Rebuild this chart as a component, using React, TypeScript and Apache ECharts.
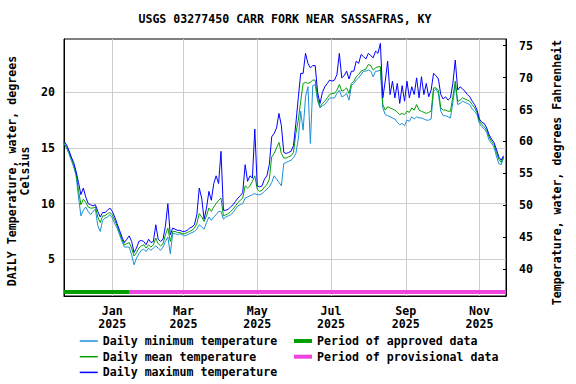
import React, { useEffect, useRef } from "react";
import * as echarts from "echarts";

const titleText = "USGS 03277450 CARR FORK NEAR SASSAFRAS, KY";
const leftAxisName = "DAILY Temperature, water, degrees\nCelsius";
const rightAxisName = "Temperature, water, degrees Fahrenheit";

// Day 0 = 2024-11-22; one value every 2 days
const stepDays = 2;

const maxTemp = [
  15.6, 15.3, 14.8, 14.2, 13.7, 12.9, 11.9, 10.8, 11.4, 10.6,
  10.0, 9.9, 9.8, 9.9, 9.3, 8.8, 9.2, 9.2, 9.4, 9.6,
  9.3, 8.8, 8.2, 7.6, 7.0, 6.5, 6.8, 7.1, 6.6, 5.6,
  6.0, 6.6, 6.7, 6.6, 6.3, 6.8, 6.5, 6.6, 8.1, 6.8,
  6.6, 6.8, 8.0, 10.0, 7.2, 7.8, 7.7, 7.6, 7.6, 7.5,
  7.5, 7.6, 7.8, 7.9, 8.1, 9.0, 11.4, 10.5, 8.6, 9.6,
  11.1, 10.3, 11.8, 12.5, 11.8, 14.7, 9.4, 9.4, 9.5, 9.7,
  9.9, 10.2, 10.5, 10.7, 11.0, 13.5, 12.0, 12.5, 12.3, 16.7,
  11.6, 11.5, 11.6, 12.2, 12.5, 13.5, 16.0, 16.3, 16.8, 18.1,
  17.0, 14.6, 14.5, 14.6, 14.7, 15.2, 17.2, 19.5, 21.7, 21.7,
  23.5, 22.6, 22.2, 22.4, 22.4, 20.0, 19.0, 20.0, 20.5, 20.8,
  21.1, 21.0, 21.1, 21.6, 23.5, 21.3, 21.5, 21.9, 21.2, 21.9,
  21.9, 22.8, 22.6, 23.4, 23.2, 23.0, 23.5, 23.3, 23.1, 23.7,
  23.5, 24.4, 19.5, 21.0, 22.8, 19.8, 21.0, 19.5, 20.8, 19.0,
  20.6, 19.2, 21.0, 19.5, 20.5, 19.8, 21.3, 19.5, 21.4, 19.8,
  20.8, 19.6, 20.2, 21.7, 21.5, 21.2, 19.8, 19.4, 19.6, 19.3,
  19.5, 20.8, 22.9, 20.2, 20.5, 20.3, 20.1, 19.8, 19.6, 19.2,
  18.9, 18.4, 17.6, 17.3, 17.2, 16.8, 16.2, 15.8, 15.5, 14.9,
  14.2, 13.9, 14.3,
];

const meanTemp = [
  15.5, 15.1, 14.7, 14.1, 13.5, 12.7, 11.2, 9.9, 10.4, 10.1,
  9.7, 9.6, 9.6, 9.7, 8.8, 8.3, 8.9, 8.9, 9.1, 9.2,
  9.0, 8.5, 8.0, 7.4, 6.8, 6.3, 6.4, 6.5, 6.0, 5.3,
  5.6, 6.0, 6.2, 6.3, 6.0, 6.3, 6.1, 6.3, 6.9, 6.4,
  6.2, 6.4, 7.2, 7.8, 6.6, 7.5, 7.5, 7.4, 7.4, 7.3,
  7.3, 7.4, 7.5, 7.6, 7.8, 8.2, 9.1, 8.8, 8.4, 8.9,
  9.6, 9.3, 9.7, 10.0, 10.3, 10.5, 8.9, 9.0, 9.1, 9.3,
  9.5, 9.8, 10.1, 10.3, 10.5, 11.6, 11.4, 11.6, 12.0, 12.5,
  11.3, 11.1, 11.2, 11.5, 11.7, 12.2, 14.2, 14.5, 15.0, 15.5,
  14.5, 14.1, 14.1, 14.2, 14.3, 14.6, 16.3, 17.5, 19.2, 20.8,
  20.9, 20.8, 20.9, 21.1, 21.1, 19.5, 18.7, 19.0, 19.2, 19.5,
  19.8, 19.9, 19.9, 20.2, 20.7, 20.1, 20.2, 20.4, 19.9, 20.8,
  21.0, 21.4, 21.6, 21.9, 22.0, 22.1, 22.5, 22.4, 22.0, 22.2,
  22.3, 22.3, 18.9, 18.4, 18.7, 18.6, 18.5, 18.4, 18.2, 18.0,
  18.1, 18.0, 18.3, 18.2, 18.6, 18.4, 18.9, 18.4, 18.3, 18.2,
  18.1, 18.2, 18.3, 20.4, 20.4, 20.2, 18.6, 18.4, 18.4, 18.3,
  18.3, 19.6, 21.0, 19.2, 19.3, 19.5, 19.4, 19.3, 19.2, 18.9,
  18.6, 18.2, 17.4, 17.1, 16.9, 16.6, 16.0, 15.6, 15.3, 14.6,
  14.0, 13.7, 14.2,
];

const minTemp = [
  15.4, 15.0, 14.5, 13.9, 13.3, 12.5, 10.6, 8.9, 9.4, 9.7,
  9.3, 9.0, 9.3, 9.5, 8.0, 7.5, 8.5, 8.7, 8.8, 9.0,
  8.7, 8.2, 7.8, 7.2, 6.6, 6.1, 6.1, 6.1, 5.4, 4.5,
  5.1, 5.5, 5.8, 5.9, 5.7, 6.0, 5.8, 6.0, 6.2, 6.0,
  5.8, 6.1, 6.6, 7.0, 5.5, 7.3, 7.3, 7.2, 7.3, 7.2,
  7.1, 7.2, 7.3, 7.4, 7.5, 7.7, 8.1, 7.9, 7.7, 8.3,
  8.8, 8.5, 8.8, 9.0, 9.3, 9.3, 8.6, 8.8, 8.9, 9.0,
  9.2, 9.5, 9.8, 9.9, 10.0, 10.5, 10.6, 10.7, 10.8, 10.9,
  10.8, 10.8, 10.9, 11.1, 11.3, 11.5, 11.9, 12.5, 12.2, 11.9,
  11.6, 13.6, 13.7, 13.8, 13.9, 14.1, 14.5, 15.8, 18.3, 16.6,
  19.6, 20.5, 15.4, 20.6, 20.7, 19.2, 18.6, 18.8, 18.9, 19.2,
  19.5, 19.5, 19.5, 19.9, 20.2, 19.6, 19.7, 19.9, 19.3, 20.6,
  20.8, 21.1, 21.3, 21.6, 21.9, 21.9, 22.0, 21.9, 21.4, 21.9,
  21.9, 22.0, 18.6, 18.0, 17.9, 17.8, 17.7, 17.6, 17.3, 17.1,
  17.2, 17.0, 17.5, 17.4, 17.8, 17.6, 17.8, 17.7, 17.7, 17.6,
  17.5, 17.5, 17.6, 20.1, 20.3, 19.9, 18.3, 17.9, 17.9, 17.8,
  17.7, 19.1, 20.7, 18.9, 19.0, 19.2, 19.1, 19.0, 18.9, 18.5,
  18.3, 18.0, 17.2, 16.9, 16.7, 16.4, 15.7, 15.4, 15.1, 14.3,
  13.6, 13.5, 14.1,
];

// x-axis tick positions (days since 2024-11-22) and labels
const monthTickDays = [40, 99, 160, 221, 283, 344];
const monthTickLabels = ["Jan\n2025", "Mar\n2025", "May\n2025", "Jul\n2025", "Sep\n2025", "Nov\n2025"];
const celsiusTicks = [5, 10, 15, 20];
const fahrenheitTicks = [40, 45, 50, 55, 60, 65, 70, 75];
const approvedPeriod = [0, 53.8];
const provisionalPeriod = [53.8, 366];

const FONT = "'DejaVu Sans Mono', monospace";
const FS = 11.6;
const MIN_C = "#1b8fd8";
const MEAN_C = "#00a000";
const MAX_C = "#0000ff";
const APPROVED_C = "#00a000";
const PROV_C = "#ee44dd";
const BAR_LEVEL = 2.06;

export default function App() {
  const ref = useRef<HTMLDivElement>(null);
  useEffect(() => {
    if (!ref.current) return;
    const chart = echarts.init(ref.current, undefined, { renderer: "svg" });
    const toPairs = (arr: number[]) => arr.map((v, i) => [i * stepDays, v]);
    const textBase = { fontFamily: FONT, fontWeight: "bold" as const, fontSize: FS, color: "#000" };
    const legendCommon = {
      orient: "vertical" as const,
      top: 335,
      itemWidth: 18,
      itemHeight: 12,
      itemGap: 3.7,
      selectedMode: false,
      textStyle: textBase,
      padding: 0,
      itemStyle: { opacity: 0 },
    };
    chart.setOption({
      animation: false,
      backgroundColor: "#fff",
      textStyle: textBase,
      grid: { left: 64, right: 70, top: 39, bottom: 88, show: true, borderColor: "#000", borderWidth: 1, backgroundColor: "transparent" },
      xAxis: {
        type: "value",
        min: 0,
        max: 366,
        axisLine: { lineStyle: { color: "#000", width: 1 } },
        axisTick: { show: false, customValues: monthTickDays },
        splitLine: { show: true, lineStyle: { color: "#cccccc", width: 1 } },
        axisLabel: {
          customValues: monthTickDays,
          formatter: (v: number) => {
            const i = monthTickDays.indexOf(Math.round(v));
            return i >= 0 ? monthTickLabels[i] : "";
          },
          ...textBase,
          lineHeight: 13,
          margin: 8,
        },
      },
      yAxis: [
        {
          type: "value",
          min: 1.7,
          max: 24.79,
          position: "left",
          axisLine: { show: true, lineStyle: { color: "#000", width: 1 } },
          axisTick: { show: false, customValues: celsiusTicks },
          splitLine: { show: true, lineStyle: { color: "#cccccc", width: 1 } },
          axisLabel: { customValues: celsiusTicks, ...textBase, margin: 9 },
        },
        {
          type: "value",
          min: 35.77,
          max: 76.05,
          position: "right",
          axisLine: { show: true, lineStyle: { color: "#000", width: 1 } },
          axisTick: { show: true, inside: true, length: 3, customValues: fahrenheitTicks, lineStyle: { color: "#000" } },
          splitLine: { show: false },
          axisLabel: { customValues: fahrenheitTicks, ...textBase, margin: 13 },
        },
      ],
      legend: [
        {
          ...legendCommon,
          data: ["Daily minimum temperature", "Daily mean temperature", "Daily maximum temperature"],
          left: 79,
          lineStyle: { width: 1.5 },
        },
        {
          ...legendCommon,
          data: ["Period of approved data", "Period of provisional data"],
          left: 292,
          lineStyle: { width: 4 },
        },
      ],
      graphic: [
        { type: "text", x: 285, y: 19, style: { text: titleText, font: `bold ${FS}px ${FONT}`, fill: "#000", align: "center", verticalAlign: "middle" } },
        { type: "text", x: 18.5, y: 171, rotation: Math.PI / 2, style: { text: leftAxisName, font: `bold ${FS}px ${FONT}`, fill: "#000", align: "center", verticalAlign: "middle", lineHeight: 12.5 } },
        { type: "text", x: 557, y: 172.5, rotation: Math.PI / 2, style: { text: rightAxisName, font: `bold ${FS}px ${FONT}`, fill: "#000", align: "center", verticalAlign: "middle" } },
      ],
      series: [
        { name: "Period of approved data", type: "line", yAxisIndex: 0, data: approvedPeriod.map((d) => [d, BAR_LEVEL]), symbol: "none", color: APPROVED_C, lineStyle: { width: 4, color: APPROVED_C } },
        { name: "Period of provisional data", type: "line", yAxisIndex: 0, data: provisionalPeriod.map((d) => [d, BAR_LEVEL]), symbol: "none", color: PROV_C, lineStyle: { width: 4, color: PROV_C } },
        { name: "Daily minimum temperature", type: "line", yAxisIndex: 0, data: toPairs(minTemp), symbol: "none", color: MIN_C, lineStyle: { width: 1, color: MIN_C } },
        { name: "Daily mean temperature", type: "line", yAxisIndex: 0, data: toPairs(meanTemp), symbol: "none", color: MEAN_C, lineStyle: { width: 1, color: MEAN_C } },
        { name: "Daily maximum temperature", type: "line", yAxisIndex: 0, data: toPairs(maxTemp), symbol: "none", color: MAX_C, lineStyle: { width: 1, color: MAX_C } },
      ],
    });
    return () => chart.dispose();
  }, []);
  return <div ref={ref} style={{ position: "fixed", left: 0, top: 0, width: 576, height: 384 }} />;
}
